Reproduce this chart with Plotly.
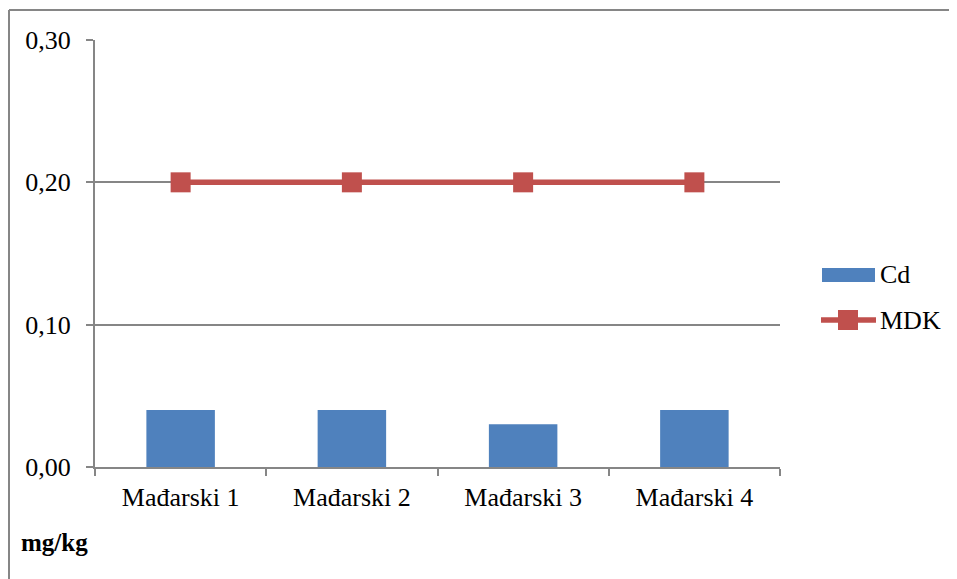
import plotly.graph_objects as go

# Datos
uzorci = ["Mađarski 1", "Mađarski 2", "Mađarski 3", "Mađarski 4"]
cd = [0.04, 0.04, 0.03, 0.04]
mdk = [0.20, 0.20, 0.20, 0.20]
y_ticks = [0.0, 0.1, 0.2, 0.3]
y_tick_labels = ["0,00", "0,10", "0,20", "0,30"]

AZUL = "#4F81BD"
ROJO = "#C0504D"
GRIS = "#868686"
FUENTE = "Liberation Serif"

fig = go.Figure()
fig.add_trace(go.Bar(
    x=uzorci, y=cd, name="Cd",
    marker=dict(color=AZUL, line=dict(width=0)),
))
fig.add_trace(go.Scatter(
    x=uzorci, y=mdk, name="MDK", mode="lines+markers",
    line=dict(color=ROJO, width=5.5),
    marker=dict(symbol="square", size=20, color=ROJO),
))

# Área de trazado en píxeles de pantalla (la página tiene 8px de margen)
L, T, R, B = 95, 40, 780, 467
pw, ph = R - L, B - T


def px(x):
    return (x - L) / pw


def py(y):
    return (B - y) / ph


# Marco exterior (solo arriba e izquierda visibles)
fig.add_shape(type="line", xref="paper", yref="paper",
              x0=px(9), x1=px(1000), y0=py(10), y1=py(10),
              line=dict(color=GRIS, width=2))
fig.add_shape(type="line", xref="paper", yref="paper",
              x0=px(9), x1=px(9), y0=py(10), y1=py(700),
              line=dict(color=GRIS, width=2))

# Leyenda dibujada a mano (estilo Excel)
fig.add_shape(type="rect", xref="paper", yref="paper",
              x0=px(822), x1=px(875), y0=py(268), y1=py(282),
              line=dict(width=0), fillcolor=AZUL)
fig.add_shape(type="line", xref="paper", yref="paper",
              x0=px(821), x1=px(876), y0=py(320), y1=py(320),
              line=dict(color=ROJO, width=5.5))
fig.add_shape(type="rect", xref="paper", yref="paper",
              x0=px(838), x1=px(858), y0=py(310), y1=py(330),
              line=dict(width=0), fillcolor=ROJO)
for texto, yy in [("Cd", 274), ("MDK", 320)]:
    fig.add_annotation(text=texto, xref="paper", yref="paper",
                       x=px(878), y=py(yy), xanchor="left", yanchor="middle",
                       showarrow=False, font=dict(family=FUENTE, size=26, color="black"))

fig.add_annotation(text="<b>mg/kg</b>", xref="paper", yref="paper",
                   x=px(19), y=py(542), xanchor="left", yanchor="middle",
                   showarrow=False, font=dict(family=FUENTE, size=25, color="black"))

fig.update_layout(
    width=957, height=579,
    margin=dict(l=L - 8, r=957 - (R - 8), t=T - 8, b=579 - (B - 8)),
    plot_bgcolor="white", paper_bgcolor="white",
    bargap=0.6,
    font=dict(family=FUENTE, size=26, color="black"),
    showlegend=False,
    xaxis=dict(
        showline=True, linecolor=GRIS, linewidth=2,
        ticks="outside", tickson="boundaries", ticklen=7, tickcolor=GRIS, tickwidth=2,
        showgrid=False, tickfont=dict(family=FUENTE, size=26), ticklabelstandoff=6,
    ),
    yaxis=dict(
        range=[0, 0.3], tickvals=y_ticks, ticktext=y_tick_labels,
        showline=True, linecolor=GRIS, linewidth=2,
        ticks="outside", ticklen=7, tickcolor=GRIS, tickwidth=2,
        showgrid=True, gridcolor=GRIS, gridwidth=1.5,
        zeroline=False, tickfont=dict(family=FUENTE, size=26), ticklabelstandoff=10,
    ),
)

fig.write_html("out.html")
